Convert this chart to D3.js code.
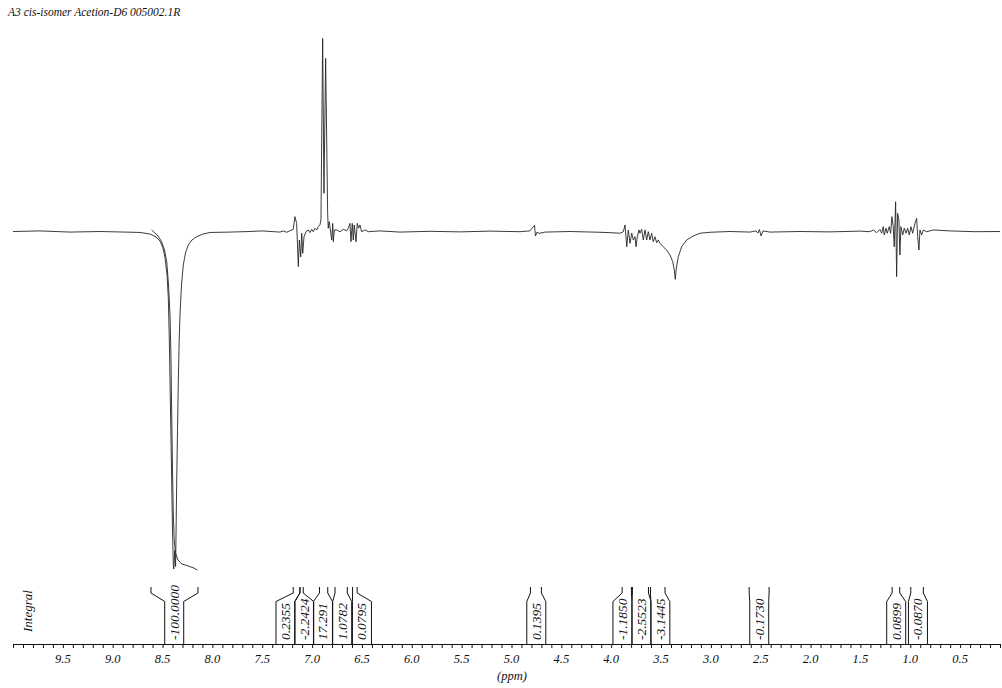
<!DOCTYPE html>
<html>
<head>
<meta charset="utf-8">
<script src="https://cdn.jsdelivr.net/npm/d3@7/dist/d3.min.js"></script>
<style>
  body { margin: 0; background: #fff; }
  svg text { font-family: "Liberation Serif", "Times New Roman", Times, serif; font-style: italic; fill: #111; }
</style>
</head>
<body>
<svg id="chart" width="1002" height="688"></svg>
<script>
// spectrum trace: chemical shift (ppm) and intensity (% of tallest peak)
var specPpm = [10.000, 9.729, 9.428, 9.127, 8.877, 8.726, 8.626, 8.566, 8.526, 8.496, 8.475, 8.455, 8.442, 8.432, 8.425, 8.415, 8.408, 8.400, 8.392, 8.387, 8.377, 8.369, 8.358, 8.350, 8.342, 8.333, 8.325, 8.310, 8.292, 8.270, 8.242, 8.205, 8.158, 8.094, 8.024, 7.823, 7.623, 7.503, 7.322,
  7.289, 7.255, 7.222, 7.189, 7.172, 7.155, 7.138, 7.128, 7.114, 7.104, 7.094, 7.081, 7.061, 7.038, 7.021, 7.004, 6.988, 6.971, 6.954, 6.938, 6.921, 6.911, 6.894, 6.881, 6.864, 6.844, 6.838, 6.828, 6.803, 6.793, 6.787, 6.777, 6.753, 6.720, 6.687, 6.653, 6.637, 6.620, 6.610, 6.597, 6.587, 6.577, 6.560, 6.547, 6.533, 6.520, 6.503, 6.469, 6.436,
  6.319, 6.118, 5.817, 5.517, 5.216, 4.915, 4.815, 4.784, 4.769, 4.759, 4.744, 4.724, 4.664, 4.413, 4.112,
  4.012, 3.912, 3.878, 3.861, 3.844, 3.828, 3.811, 3.794, 3.778, 3.761, 3.751, 3.738, 3.721, 3.711, 3.694, 3.678, 3.661, 3.644, 3.628, 3.611, 3.594, 3.578, 3.561, 3.544, 3.528, 3.511, 3.478, 3.444, 3.410, 3.383, 3.367, 3.357, 3.347, 3.327, 3.293, 3.243, 3.176, 3.109, 3.009,
  2.808, 2.608, 2.548, 2.528, 2.513, 2.497, 2.477, 2.407, 2.106, 1.806, 1.505,
  1.404, 1.371, 1.337, 1.304, 1.287, 1.271, 1.261, 1.244, 1.231, 1.211, 1.197, 1.184, 1.171, 1.161, 1.147, 1.137, 1.127, 1.114, 1.104, 1.094, 1.076, 1.060, 1.043, 1.026, 1.010, 0.993, 0.976, 0.953, 0.936, 0.926, 0.913, 0.903, 0.886, 0.870, 0.836, 0.769, 0.602, 0.351, 0.100];
var specInt = [0, 0.3, -0.3, 0, -0.3, -0.5, -1.3, -2.8, -4.9, -8.5, -13.7, -22.5, -34.5, -56.2, -78.0, -108, -129.8, -154.7, -172.8, -174.9, -165.3, -173.6, -129.8, -103, -78, -56.2, -43.3, -27.7, -17.4, -11.1, -7.0, -4.4, -2.7, -1.3, -0.5, -0.3, 0, 0.3, -0.3,
  0.3, -0.4, 0.4, 1.1, 7.7, 4.2, -18.2, -4.4, -13.1, -0.9, -11.3, -2.7, -0.1, 0.8, -0.6, 1.1, -0.1, 1.7, 0.8, 2.5, 3.4, 6.0, 100, 19.8, 89.7, 9.4, 1.7, 5.1, -4.4, 4.2, -5.3, 0.8, 0.8, -0.1, 1.1, 0.4, 1.7, 4.2, -5.3, 4.2, -4.4, 3.4, -5.3, 4.2, 1.7, 3.4, -0.1, 0.8, -0.1,
  0.3, -0.3, 0.1, -0.2, 0.2, -0.1, 0.3, 2.3, 3.1, -2.3, -0.3, -1.0, -0.3, 0, -0.4,
  -0.6, -0.9, -0.1, 3.4, -7.9, 0.8, -6.1, -0.9, -4.4, -2.7, -7.9, -2.7, 0.8, -0.9, 1.1, -4.4, 0.8, -4.4, -0.1, -4.4, -0.9, -5.3, -2.7, -5.8, -4.4, -6.1, -7.9, -9.6, -12.2, -15.6, -19.9, -24.8, -19.1, -13.1, -7.9, -4.4, -2.3, -0.9, -0.4,
  0, -0.3, 0.3, -0.8, 1.0, -2.3, 0.3, -0.3, 0, -0.2, 0.2,
  -0.1, 0.8, -0.6, 1.1, -0.9, 2.5, -1.8, 1.7, -0.9, 2.5, -0.9, 7.7, 2.5, -7.9, 15.4, -23.4, 9.4, 6.0, -12.2, 2.5, -1.8, 1.7, -0.9, 1.7, -1.8, 2.5, -0.9, 4.2, 6.8, -2.7, -9.6, 0.8, -1.8, 0.8, -0.1, 0.8, 0.3, -0.1, 0];

// integral curve drawn over the big negative peak
var curvePpm = [8.609, 8.546, 8.509, 8.480, 8.458, 8.440, 8.425, 8.415, 8.408, 8.400, 8.392, 8.383, 8.370, 8.345, 8.305, 8.242, 8.185, 8.150];
var curveInt = [0.8, -2.3, -5.3, -9.6, -15.6, -27.7, -43.3, -66.6, -95.1, -123.6, -146.9, -159.8, -166.6, -170.2, -172.3, -173.3, -174.4, -175.4];

// integrals: label, integration range (ppm) and where the label sits (ppm)
var integralLabels = ["-100.0000", "0.2355", "-2.2424", "17.291", "1.0782", "0.0795", "0.1395", "-1.1850", "-2.5523", "-3.1445", "-0.1730", "0.0899", "-0.0870"];
var integralFrom = [8.616, 7.189, 7.122, 6.926, 6.770, 6.594, 4.810, 3.890, 3.787, 3.606, 2.616, 1.182, 0.995];
var integralTo   = [8.145, 7.122, 7.089, 6.843, 6.647, 6.548, 4.700, 3.797, 3.626, 3.460, 2.416, 1.106, 0.869];
var integralAt   = [8.383, 7.267, 7.079, 6.891, 6.698, 6.500, 4.751, 3.887, 3.696, 3.507, 2.515, 1.141, 0.923];

var tickLabels = ["9.5", "9.0", "8.5", "8.0", "7.5", "7.0", "6.5", "6.0", "5.5", "5.0", "4.5", "4.0", "3.5", "3.0", "2.5", "2.0", "1.5", "1.0", "0.5"];

var serif = "'Liberation Serif', 'Times New Roman', Times, serif";
var svg = d3.select("#chart");

var x = d3.scaleLinear().domain([10.0, 0.1]).range([13, 1000]);
var y = d3.scaleLinear().domain([0, 100]).range([231.5, 38.5]);

var axisY = 644;

// title
svg.append("text")
  .attr("x", 8).attr("y", 16)
  .attr("font-family", serif)
  .style("font-size", "11.5px")
  .text("A3 cis-isomer Acetion-D6 005002.1R");

// spectrum
var line = d3.line()
  .x(function(d) { return x(d[0]); })
  .y(function(d) { return y(d[1]); });

svg.append("path")
  .datum(d3.zip(specPpm, specInt))
  .attr("d", line)
  .attr("fill", "none")
  .attr("stroke", "#262626")
  .attr("stroke-width", 0.9)
  .attr("stroke-linejoin", "round");

svg.append("path")
  .datum(d3.zip(curvePpm, curveInt))
  .attr("d", line)
  .attr("fill", "none")
  .attr("stroke", "#262626")
  .attr("stroke-width", 0.9);

// x axis
var ticks = d3.range(100, 0, -1).map(function(i) { return i / 10; });
var axis = d3.axisBottom(x)
  .tickValues(ticks)
  .tickSizeInner(4)
  .tickSizeOuter(0)
  .tickFormat("");

var gAxis = svg.append("g")
  .attr("transform", "translate(0," + axisY + ")")
  .call(axis);
gAxis.select(".domain").attr("stroke", "#111").attr("stroke-width", 1.2);
gAxis.selectAll(".tick line").attr("stroke", "#111");

svg.selectAll(".ticklab")
  .data(tickLabels)
  .enter().append("text")
  .attr("class", "ticklab")
  .attr("x", function(d) { return x(+d); })
  .attr("y", axisY + 18.5)
  .attr("text-anchor", "middle")
  .attr("font-family", serif)
  .style("font-size", "12.5px")
  .text(function(d) { return d; });

svg.append("text")
  .attr("x", 512).attr("y", 680)
  .attr("text-anchor", "middle")
  .attr("font-family", serif)
  .style("font-size", "12.5px")
  .text("(ppm)");

// integral label
svg.append("text")
  .attr("transform", "translate(32,632) rotate(-90)")
  .attr("font-family", serif)
  .style("font-size", "13px")
  .text("Integral");

// integral brackets
var half = 9.5, kneeY = 601.5, topY = 593, endY = 587;
var integrals = integralLabels.map(function(t, i) {
  return { label: t, from: integralFrom[i], to: integralTo[i], at: integralAt[i] };
});

var gInt = svg.append("g").selectAll("g")
  .data(integrals)
  .enter().append("g");

gInt.append("path")
  .attr("d", function(d) {
    var c = x(d.at), l = c - half, r = c + half;
    return "M" + l + "," + axisY + "L" + l + "," + kneeY + "L" + x(d.from) + "," + topY + "L" + x(d.from) + "," + endY +
           "M" + r + "," + axisY + "L" + r + "," + kneeY + "L" + x(d.to) + "," + topY + "L" + x(d.to) + "," + endY;
  })
  .attr("fill", "none")
  .attr("stroke", "#111")
  .attr("stroke-width", 1);

gInt.append("text")
  .attr("transform", function(d) { return "translate(" + (x(d.at) + 4.5) + "," + (axisY - 4) + ") rotate(-90)"; })
  .attr("font-family", serif)
  .style("font-size", "13.5px")
  .text(function(d) { return d.label; });
</script>
</body>
</html>
